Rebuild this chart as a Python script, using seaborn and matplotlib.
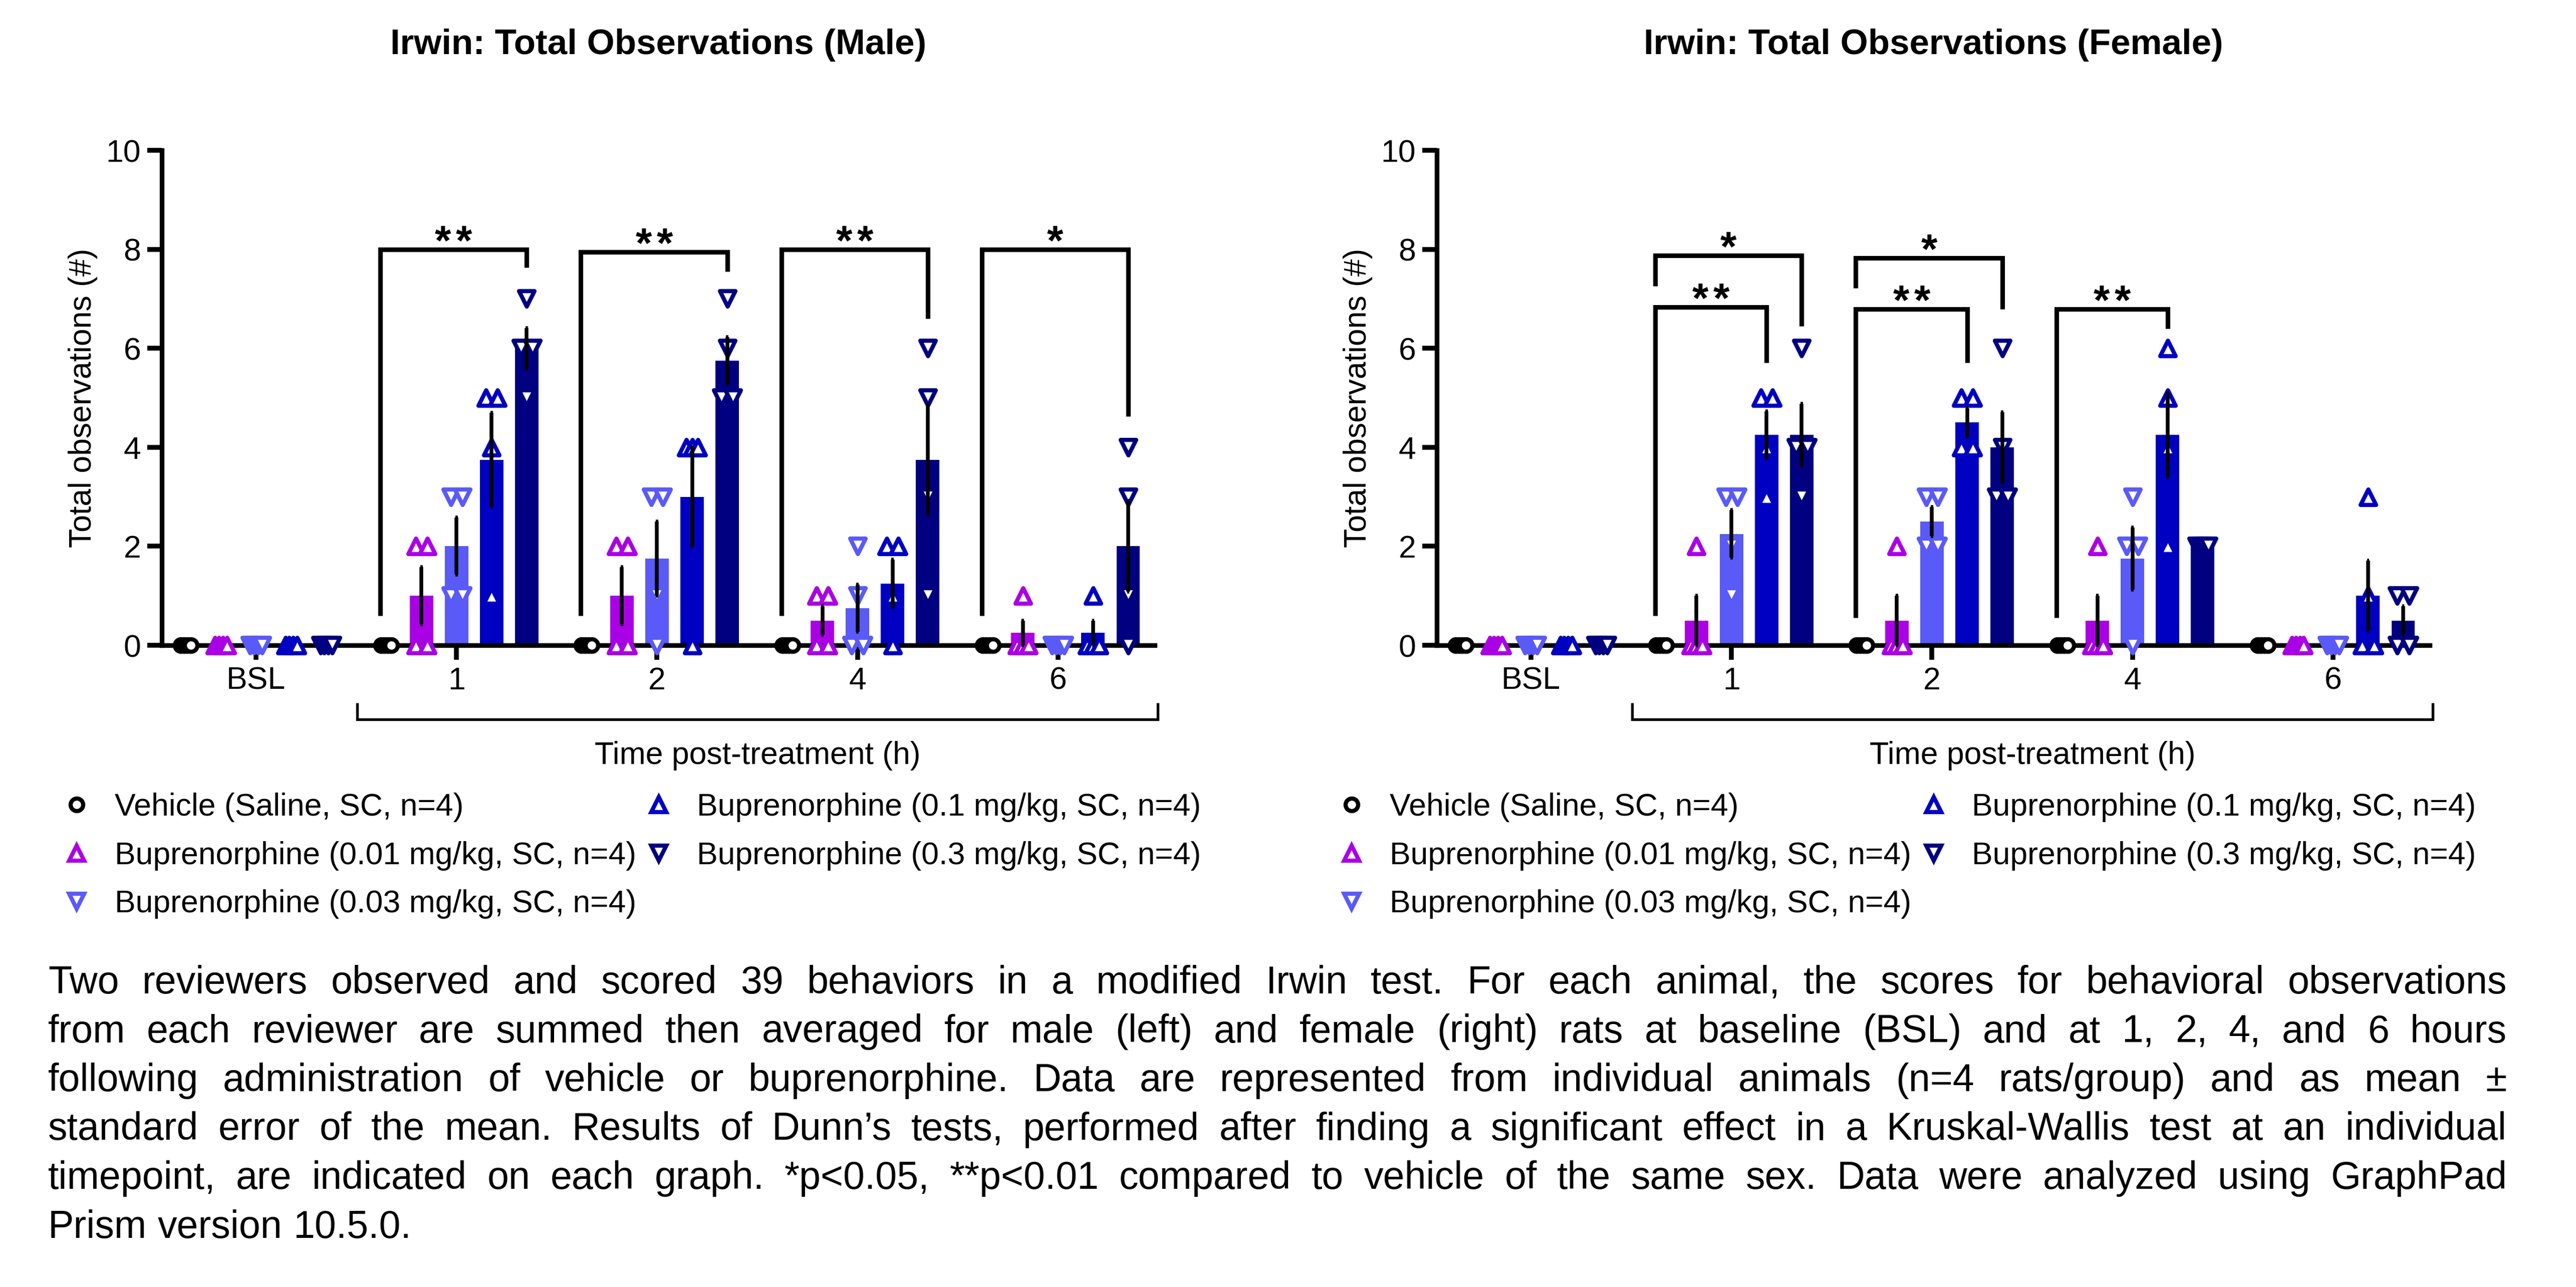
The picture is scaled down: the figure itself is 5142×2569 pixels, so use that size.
import numpy as np
import pandas as pd
import matplotlib
matplotlib.use("Agg")
import matplotlib.pyplot as plt
from matplotlib.lines import Line2D
import seaborn as sns

plt.rcParams["font.family"] = ["Liberation Sans", "DejaVu Sans"]

# ---------------- data ----------------
TIMES = ["BSL", "1", "2", "4", "6"]
GROUPS = ["Vehicle (Saline, SC, n=4)",
          "Buprenorphine (0.01 mg/kg, SC, n=4)",
          "Buprenorphine (0.03 mg/kg, SC, n=4)",
          "Buprenorphine (0.1 mg/kg, SC, n=4)",
          "Buprenorphine (0.3 mg/kg, SC, n=4)"]
COLORS = ["#000000", "#AA00E6", "#5A5AF8", "#0000C2", "#000080"]
MARKERS = ["o", "^", "v", "^", "v"]

# individual animal scores per timepoint (BSL, 1, 2, 4, 6 h)
male_vehicle = [[0, 0, 0, 0], [0, 0, 0, 0], [0, 0, 0, 0], [0, 0, 0, 0], [0, 0, 0, 0]]
male_bup001 = [[0, 0, 0, 0], [2, 2, 0, 0], [2, 2, 0, 0], [1, 1, 0, 0], [1, 0, 0, 0]]
male_bup003 = [[0, 0, 0, 0], [3, 3, 1, 1], [3, 3, 1, 0], [2, 1, 0, 0], [0, 0, 0, 0]]
male_bup01 = [[0, 0, 0, 0], [5, 5, 4, 1], [4, 4, 4, 0], [2, 2, 1, 0], [1, 0, 0, 0]]
male_bup03 = [[0, 0, 0, 0], [7, 6, 6, 5], [7, 6, 5, 5], [6, 5, 3, 1], [4, 3, 1, 0]]

female_vehicle = [[0, 0, 0, 0], [0, 0, 0, 0], [0, 0, 0, 0], [0, 0, 0, 0], [0, 0, 0, 0]]
female_bup001 = [[0, 0, 0, 0], [2, 0, 0, 0], [2, 0, 0, 0], [2, 0, 0, 0], [0, 0, 0, 0]]
female_bup003 = [[0, 0, 0, 0], [3, 3, 2, 1], [3, 3, 2, 2], [3, 2, 2, 0], [0, 0, 0, 0]]
female_bup01 = [[0, 0, 0, 0], [5, 5, 4, 3], [5, 5, 4, 4], [6, 5, 4, 2], [3, 1, 0, 0]]
female_bup03 = [[0, 0, 0, 0], [6, 4, 4, 3], [6, 4, 3, 3], [2, 2, 2, 2], [1, 1, 0, 0]]

# Dunn's test results vs vehicle: (timepoint, compared group index, label)
male_sig = [("1", 4, "**"), ("2", 4, "**"), ("4", 4, "**"), ("6", 4, "*")]
female_sig = [("1", 3, "**"), ("1", 4, "*"), ("2", 3, "**"), ("2", 4, "*"), ("4", 3, "**")]

TITLES = ["Irwin: Total Observations (Male)", "Irwin: Total Observations (Female)"]
YLABEL = "Total observations (#)"
XLABEL = "Time post-treatment (h)"
CAPTION = [
    "Two reviewers observed and scored 39 behaviors in a modified Irwin test. For each animal, the scores for behavioral observations",
    "from each reviewer are summed then averaged for male (left) and female (right) rats at baseline (BSL) and at 1, 2, 4, and 6 hours",
    "following administration of vehicle or buprenorphine. Data are represented from individual animals (n=4 rats/group) and as mean \u00b1",
    "standard error of the mean. Results of Dunn\u2019s tests, performed after finding a significant effect in a Kruskal-Wallis test at an individual",
    "timepoint, are indicated on each graph. *p<0.05, **p<0.01 compared to vehicle of the same sex. Data were analyzed using GraphPad",
    "Prism version 10.5.0.",
]

# ---------------- layout ----------------
W, H = 5142, 2569
DPI = 300
fig = plt.figure(figsize=(W / DPI, H / DPI), dpi=DPI)


def fx(px):
    return px / W


def fy(py):
    return 1 - py / H


AX_LEFT = [323, 2868]
AX_RIGHT_W = 1982
AX_TOP, AX_BOT = 300, 1288
DODGE_W = 0.875
GAP = 0.33
CAP = 0.06
OFFS = np.linspace(-DODGE_W / 2 + DODGE_W / 10, DODGE_W / 2 - DODGE_W / 10, 5)
MS_TRI, MS_CIR, MEW = 7.4, 6.0, 2.0

# bracket geometry: key -> (top, left leg end, right leg end)
male_br = {("1", 4): (8.0, 0.6, 7.63), ("2", 4): (7.95, 0.6, 7.55),
           ("4", 4): (8.0, 0.6, 6.6), ("6", 4): (8.0, 0.6, 4.63)}
female_br = {("1", 3): (6.83, 0.6, 5.71), ("1", 4): (7.87, 7.26, 6.45),
             ("2", 3): (6.79, 0.56, 5.71), ("2", 4): (7.82, 7.22, 6.79),
             ("4", 3): (6.79, 0.56, 6.4)}


def jitter(vals, spread):
    vals = np.asarray(vals, float)
    out = np.zeros_like(vals)
    for v in np.unique(vals):
        idx = np.where(vals == v)[0]
        if len(idx) > 1:
            out[idx] = np.linspace(-spread / 2, spread / 2, len(idx))
    return out


def draw_panel(ax, series, sig, brackets):
    rows = []
    for g, vals in zip(GROUPS, series):
        for t, animals in zip(TIMES, vals):
            for v in animals:
                rows.append({"time": t, "group": g, "value": v})
    df = pd.DataFrame(rows)
    sns.barplot(data=df, x="time", y="value", hue="group", order=TIMES,
                hue_order=GROUPS, palette=COLORS, width=DODGE_W, gap=GAP,
                saturation=1, errorbar="se", capsize=CAP,
                err_kws={"color": "black", "linewidth": 1.8,
                         "solid_capstyle": "butt"},
                linewidth=0, edgecolor="none", legend=False, ax=ax)
    # remove zero-length error bars, lift others above markers
    for ln in list(ax.lines):
        y = np.asarray(ln.get_ydata(), float)
        y = y[np.isfinite(y)]
        if y.size and (y.max() - y.min()) < 1e-9:
            ln.remove()
        else:
            ln.set_zorder(4)
            ln.set_clip_on(False)
    # individual points
    for gi, (vals, c, m) in enumerate(zip(series, COLORS, MARKERS)):
        for ti, animals in enumerate(vals):
            spread = 0.05 if m == "o" else 0.058
            xs = ti + OFFS[gi] + jitter(animals, spread)
            ax.scatter(xs, animals, marker=m,
                       s=(MS_CIR if m == "o" else MS_TRI) ** 2,
                       facecolors="white", edgecolors=c, linewidths=MEW,
                       zorder=3, clip_on=False)
    # significance brackets
    for t, gi, lab in sig:
        top, yl, yr = brackets[(t, gi)]
        ti = TIMES.index(t)
        x1 = ti + OFFS[0] - 0.03
        x2 = ti + OFFS[gi]
        ax.plot([x1, x1, x2, x2], [yl, top, top, yr], color="black", lw=2.2,
                solid_joinstyle="miter", solid_capstyle="butt", clip_on=False,
                zorder=5)
        xc = (x1 + x2) / 2
        n = len(lab)
        for k in range(n):
            xs = xc + (k - (n - 1) / 2) * 0.105
            ax.text(xs, top - 0.11, "*", ha="center", va="baseline",
                    fontsize=20, fontweight="bold", clip_on=False)
    # axes styling
    ax.set_xlim(-0.47, 4.4825)
    ax.set_ylim(0, 10)
    ax.set_yticks([0, 2, 4, 6, 8, 10])
    ax.set_xticks(range(5))
    ax.set_xticklabels(TIMES)
    ax.set_xlabel("")
    ax.set_ylabel(YLABEL, fontsize=15, labelpad=4)
    for s in ["top", "right"]:
        ax.spines[s].set_visible(False)
    for s in ["left", "bottom"]:
        ax.spines[s].set_linewidth(2.25)
        ax.spines[s].set_color("black")
    ax.tick_params(axis="both", direction="out", length=7, width=2.3,
                   labelsize=15, pad=3, colors="black")
    # time post-treatment bracket
    xa, xb, yb, ye = 0.505, 4.4975, -1.50, -1.16
    ax.plot([xa, xa, xb, xb], [ye, yb, yb, ye], color="black", lw=1.3,
            solid_joinstyle="miter", solid_capstyle="butt", clip_on=False)
    ax.text((xa + xb) / 2, -2.40, XLABEL, ha="center", va="baseline",
            fontsize=15)
    ax.set_facecolor("none")


male_series = [male_vehicle, male_bup001, male_bup003, male_bup01, male_bup03]
female_series = [female_vehicle, female_bup001, female_bup003, female_bup01, female_bup03]

for k, (series, sig, br, title) in enumerate(
        [(male_series, male_sig, male_br, TITLES[0]),
         (female_series, female_sig, female_br, TITLES[1])]):
    left = AX_LEFT[k]
    ax = fig.add_axes([fx(left), fy(AX_BOT), AX_RIGHT_W / W, (AX_BOT - AX_TOP) / H])
    draw_panel(ax, series, sig, br)
    fig.text(fx(left + AX_RIGHT_W / 2), fy(90), title, ha="center", va="center",
             fontsize=17, fontweight="bold")
    handles = [Line2D([], [], ls="none", marker=m,
                      ms=(MS_CIR if m == "o" else MS_TRI),
                      mfc="white", mec=c, mew=MEW, label=g)
               for g, c, m in zip(GROUPS, COLORS, MARKERS)]
    dx = left - AX_LEFT[0]
    top_px = 1582
    for hs, xpx in ((handles[:3], 122), (handles[3:], 1284)):
        fig.legend(handles=hs, loc="upper left",
                   bbox_to_anchor=(fx(xpx + dx), fy(top_px)), frameon=False,
                   fontsize=15, handlelength=1.0, handletextpad=0.71,
                   labelspacing=0.6, borderpad=0, borderaxespad=0)

# ---------------- caption (justified) ----------------
renderer = fig.canvas.get_renderer()
CAP_L, CAP_R = 96, 5004
CAP_BASE0, CAP_PITCH = 1983, 97.5
CAP_FS = 18.5
sp_a = fig.text(0, 0, "a b", fontsize=CAP_FS)
sp_b = fig.text(0, 0, "ab", fontsize=CAP_FS)
space_w = sp_a.get_window_extent(renderer).width - sp_b.get_window_extent(renderer).width
sp_a.remove()
sp_b.remove()
for i, line in enumerate(CAPTION):
    words = line.split(" ")
    ypx = CAP_BASE0 + i * CAP_PITCH
    objs = [fig.text(0, fy(ypx), w, fontsize=CAP_FS, ha="left", va="baseline")
            for w in words]
    widths = [o.get_window_extent(renderer).width for o in objs]
    last = i == len(CAPTION) - 1
    if last or len(words) == 1:
        gap = space_w
    else:
        gap = (CAP_R - CAP_L - sum(widths)) / (len(words) - 1)
    x = CAP_L
    for o, w in zip(objs, widths):
        o.set_x(fx(x))
        x += w + gap

fig.savefig("out.png", dpi=DPI, facecolor="white")
